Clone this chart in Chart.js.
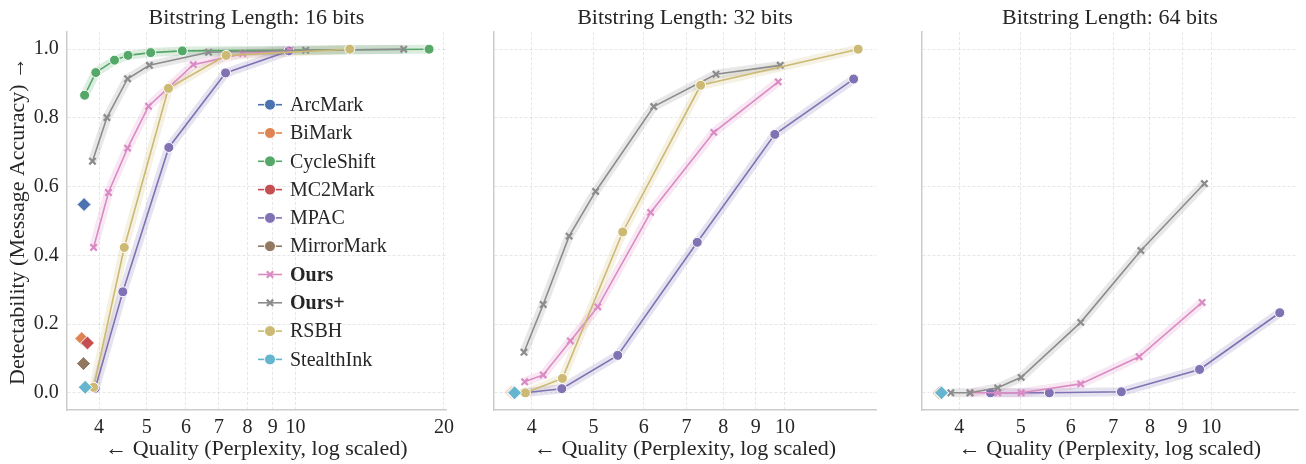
<!DOCTYPE html>
<html>
<head>
<meta charset="utf-8">
<script src="https://cdn.jsdelivr.net/npm/chart.js@4/dist/chart.umd.min.js"></script>
<style>
  body { margin: 0; background: #fff; width: 1306px; height: 464px; overflow: hidden; position: relative; }
  canvas { position: absolute; top: 0; }
</style>
</head>
<body>
<canvas id="c16" width="460" height="464" style="left:0"></canvas>
<canvas id="c32" width="430" height="464" style="left:460px"></canvas>
<canvas id="c64" width="426" height="464" style="left:880px"></canvas>
<script>
// ---- data ----
const methods = ['ArcMark', 'BiMark', 'CycleShift', 'MC2Mark', 'MPAC', 'MirrorMark', 'Ours', 'Ours+', 'RSBH', 'StealthInk'];
const panelTitles = ['Bitstring Length: 16 bits', 'Bitstring Length: 32 bits', 'Bitstring Length: 64 bits'];
const xTicks16 = [4, 5, 6, 7, 8, 9, 10, 20];
const xTicksWide = [4, 5, 6, 7, 8, 9, 10];
const yTicks = [0, 0.2, 0.4, 0.6, 0.8, 1.0];

// perplexity (x) and message accuracy (y), 16 bits
const ppl16 = {
  ArcMark: [3.73], BiMark: [3.69], MC2Mark: [3.79], MirrorMark: [3.72], StealthInk: [3.75],
  CycleShift: [3.74, 3.94, 4.30, 4.58, 5.09, 5.90, 18.66],
  MPAC: [3.93, 4.47, 5.54, 7.22, 9.70],
  Ours: [3.90, 4.18, 4.57, 5.04, 6.21, 7.82, 9.75],
  'Ours+': [3.88, 4.15, 4.57, 5.06, 6.67, 10.49, 16.58],
  RSBH: [3.90, 4.50, 5.53, 7.24, 12.89]
};
const acc16 = {
  ArcMark: [0.548], BiMark: [0.158], MC2Mark: [0.145], MirrorMark: [0.085], StealthInk: [0.016],
  CycleShift: [0.866, 0.932, 0.968, 0.982, 0.990, 0.995, 1.0],
  MPAC: [0.013, 0.294, 0.714, 0.931, 0.995],
  Ours: [0.423, 0.583, 0.712, 0.834, 0.955, 0.987, 0.997],
  'Ours+': [0.674, 0.801, 0.914, 0.953, 0.991, 0.997, 1.0],
  RSBH: [0.016, 0.423, 0.886, 0.982, 1.0]
};

// 32 bits
const ppl32 = {
  ArcMark: [3.75], BiMark: [3.72], MC2Mark: [3.74], MirrorMark: [3.75], StealthInk: [3.76],
  MPAC: [3.90, 4.46, 5.46, 7.28, 9.64, 12.82],
  Ours: [3.90, 4.17, 4.60, 5.08, 6.15, 7.73, 9.76],
  'Ours+': [3.89, 4.17, 4.58, 5.04, 6.22, 7.79, 9.83],
  RSBH: [3.91, 4.47, 5.56, 7.37, 13.03]
};
const acc32 = {
  ArcMark: [0], BiMark: [0], MC2Mark: [0], MirrorMark: [0], StealthInk: [0],
  MPAC: [0.0, 0.012, 0.109, 0.438, 0.752, 0.913],
  Ours: [0.032, 0.052, 0.151, 0.250, 0.525, 0.758, 0.905],
  'Ours+': [0.118, 0.257, 0.456, 0.586, 0.833, 0.927, 0.953],
  RSBH: [0.0, 0.042, 0.468, 0.895, 1.0]
};

// 64 bits
const ppl64 = {
  ArcMark: [3.75], BiMark: [3.72], MC2Mark: [3.74], MirrorMark: [3.75], StealthInk: [3.75],
  MPAC: [4.48, 5.55, 7.21, 9.58, 12.82],
  Ours: [4.16, 4.60, 5.01, 6.22, 7.69, 9.67],
  'Ours+': [3.88, 4.16, 4.60, 5.01, 6.22, 7.74, 9.75]
};
const acc64 = {
  ArcMark: [0], BiMark: [0], MC2Mark: [0], MirrorMark: [0], StealthInk: [0],
  MPAC: [0, 0, 0.003, 0.068, 0.233],
  Ours: [0, 0, 0, 0.026, 0.105, 0.263],
  'Ours+': [0, 0, 0.0145, 0.045, 0.205, 0.414, 0.609]
};

// ---- styling ----
const palette = {
  ArcMark: '#4C72B0', BiMark: '#DD8452', CycleShift: '#55A868', MC2Mark: '#C44E52', MPAC: '#8172B3',
  MirrorMark: '#937860', Ours: '#DA8BC3', 'Ours+': '#8C8C8C', RSBH: '#CCB974', StealthInk: '#64B5CD'
};
const FONT = "'Liberation Serif', 'DejaVu Serif', serif";
const TEXT = '#262626';
Chart.defaults.font.family = FONT;
Chart.defaults.color = TEXT;

function hexToRgba(hex, a) {
  const h = hex.slice(1);
  return `rgba(${parseInt(h.slice(0, 2), 16)},${parseInt(h.slice(2, 4), 16)},${parseInt(h.slice(4, 6), 16)},${a})`;
}

function isCross(m) { return m === 'Ours' || m === 'Ours+'; }

function buildDatasets(ppl, acc) {
  const sets = [];
  methods.forEach((m, i) => {
    if (!ppl[m]) return;
    const pts = ppl[m].map((x, k) => ({x, y: acc[m][k]}));
    const c = palette[m];
    if (pts.length > 1) {
      // confidence band, drawn as a wide translucent stroke
      sets.push({
        data: pts, borderColor: hexToRgba(c, 0.2), borderWidth: 9, pointRadius: 0,
        borderCapStyle: 'butt', borderJoinStyle: 'round', tension: 0, order: 100
      });
      sets.push({
        label: m, data: pts, borderColor: c, borderWidth: 1.6, tension: 0,
        pointStyle: isCross(m) ? 'crossRot' : 'circle',
        pointRadius: isCross(m) ? 4.5 : 5,
        pointBackgroundColor: c,
        pointBorderColor: isCross(m) ? c : '#ffffff',
        pointBorderWidth: isCross(m) ? 2.2 : 1,
        order: 50 - i
      });
    } else {
      sets.push({
        label: m, data: pts, showLine: false, pointStyle: 'rectRot', pointRadius: 7,
        pointBackgroundColor: c, pointBorderColor: '#ffffff', pointBorderWidth: 1,
        order: 20 - i
      });
    }
  });
  return sets;
}

// legend drawn inside the first panel
const innerLegend = {
  id: 'innerLegend',
  afterDraw(chart) {
    const ctx = chart.ctx;
    methods.forEach((m, i) => {
      const y = 104.7 + i * 28.3;
      const c = palette[m];
      ctx.save();
      ctx.strokeStyle = c;
      ctx.lineWidth = 1.6;
      ctx.beginPath();
      ctx.moveTo(258, y);
      ctx.lineTo(282, y);
      ctx.stroke();
      ctx.fillStyle = c;
      ctx.strokeStyle = isCross(m) ? c : '#ffffff';
      ctx.lineWidth = isCross(m) ? 2.2 : 1;
      Chart.helpers.drawPoint(ctx, {pointStyle: isCross(m) ? 'crossRot' : 'circle', radius: isCross(m) ? 4.5 : 5.5, rotation: 0, borderWidth: ctx.lineWidth}, 270, y);
      ctx.fillStyle = TEXT;
      ctx.font = (isCross(m) ? 'bold ' : '') + '20px ' + FONT;
      ctx.textBaseline = 'middle';
      ctx.textAlign = 'left';
      ctx.fillText(m, 290, y + 1);
      ctx.restore();
    });
  }
};

function makePanel(id, title, ppl, acc, cfg) {
  const grid = {color: 'rgba(0,0,0,0.12)', lineWidth: 0.8, drawTicks: false};
  const border = {color: '#cccccc', width: 1.5, dash: [3, 2]};
  new Chart(document.getElementById(id), {
    type: 'line',
    data: {datasets: buildDatasets(ppl, acc)},
    plugins: cfg.legend ? [innerLegend] : [],
    options: {
      responsive: false,
      animation: false,
      devicePixelRatio: 1,
      events: [],
      layout: {padding: {top: 0, right: cfg.padRight, bottom: 0, left: 0}},
      plugins: {
        legend: {display: false},
        tooltip: {enabled: false},
        title: {
          display: true, text: title, color: TEXT, fullSize: false,
          font: {family: FONT, size: 22, weight: 'normal'},
          padding: {top: 5, bottom: 0.6}
        }
      },
      scales: {
        x: {
          type: 'logarithmic', min: cfg.xMin, max: cfg.xMax,
          afterBuildTicks: s => { s.ticks = cfg.xTicks.map(v => ({value: v})); },
          afterFit: s => { s.height = 54; },
          ticks: {callback: v => String(v), font: {size: 20}, color: TEXT, padding: 6, autoSkip: false, maxRotation: 0},
          grid, border,
          title: {display: true, text: '\u2190 Quality (Perplexity, log scaled)', font: {size: 22}, color: TEXT, padding: {top: 0, bottom: 1.3}}
        },
        y: {
          min: -0.05, max: 1.05,
          afterBuildTicks: s => { s.ticks = yTicks.map(v => ({value: v})); },
          afterFit: s => { s.width = cfg.yWidth; },
          ticks: {display: cfg.showY, callback: v => v.toFixed(1), font: {size: 20}, color: TEXT, padding: 8},
          grid, border,
          title: {display: cfg.showY, text: 'Detectability (Message Accuracy) \u2192', font: {size: 22}, color: TEXT, padding: {top: 5.5, bottom: 0}}
        }
      }
    }
  });
}

makePanel('c16', panelTitles[0], ppl16, acc16, {xMin: 3.44, xMax: 20.2, xTicks: xTicks16, yWidth: 66.7, padRight: 12, showY: true, legend: true});
makePanel('c32', panelTitles[1], ppl32, acc32, {xMin: 3.49, xMax: 13.9, xTicks: xTicksWide, yWidth: 34, padRight: 14, showY: false, legend: false});
makePanel('c64', panelTitles[2], ppl64, acc64, {xMin: 3.49, xMax: 13.7, xTicks: xTicksWide, yWidth: 41.7, padRight: 2, showY: false, legend: false});
</script>
</body>
</html>
